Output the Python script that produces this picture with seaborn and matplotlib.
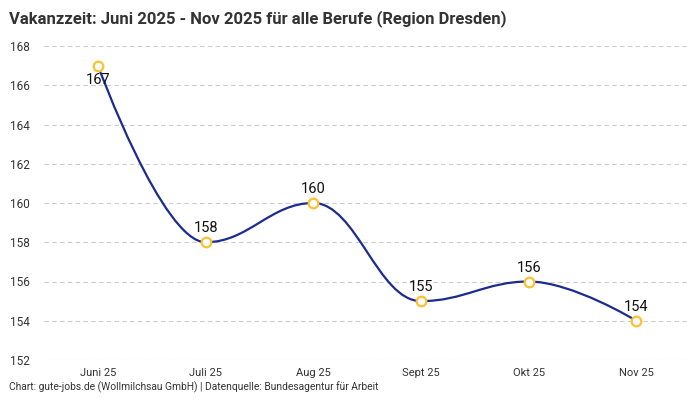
import matplotlib
matplotlib.use("Agg")
import matplotlib.pyplot as plt
from matplotlib.path import Path
from matplotlib.patches import PathPatch
import seaborn as sns
import pandas as pd
import numpy as np

title = "Vakanzzeit: Juni 2025 - Nov 2025 für alle Berufe (Region Dresden)"
footer = "Chart: gute-jobs.de (Wollmilchsau GmbH) | Datenquelle: Bundesagentur für Arbeit"
months = ["Juni 25", "Juli 25", "Aug 25", "Sept 25", "Okt 25", "Nov 25"]
values = [167, 158, 160, 155, 156, 154]
y_ticks = [152, 154, 156, 158, 160, 162, 164, 166, 168]

LINE = "#1c2b8f"
MARK = "#fcc12e"

sns.set_theme(style="white")
plt.rcParams["font.family"] = ["Roboto", "DejaVu Sans"]

df = pd.DataFrame({"x": np.arange(len(months)), "month": months, "value": values})

fig = plt.figure(figsize=(7, 4), dpi=100)
ax = fig.add_axes([0.063, 0.10, 0.923, 0.785])


def spline_path(xs, ys, smoothing=1.5):
    denom = smoothing + 1
    n = len(xs)
    lc = [None] * n
    rc = [None] * n
    for i in range(1, n - 1):
        px, py = xs[i], ys[i]
        lx, ly = xs[i - 1], ys[i - 1]
        nx, ny = xs[i + 1], ys[i + 1]
        lcx = (smoothing * px + lx) / denom
        lcy = (smoothing * py + ly) / denom
        rcx = (smoothing * px + nx) / denom
        rcy = (smoothing * py + ny) / denom
        if rcx != lcx:
            corr = (rcy - lcy) * (rcx - px) / (rcx - lcx) + py - rcy
            lcy += corr
            rcy += corr
        if lcy > ly and lcy > py:
            lcy = max(ly, py); rcy = 2 * py - lcy
        elif lcy < ly and lcy < py:
            lcy = min(ly, py); rcy = 2 * py - lcy
        if rcy > ny and rcy > py:
            rcy = max(ny, py); lcy = 2 * py - rcy
        elif rcy < ny and rcy < py:
            rcy = min(ny, py); lcy = 2 * py - rcy
        lc[i] = (lcx, lcy)
        rc[i] = (rcx, rcy)
    verts = [(xs[0], ys[0])]
    codes = [Path.MOVETO]
    for i in range(1, n):
        c1 = rc[i - 1] if rc[i - 1] is not None else (xs[i - 1], ys[i - 1])
        c2 = lc[i] if lc[i] is not None else (xs[i], ys[i])
        verts += [c1, c2, (xs[i], ys[i])]
        codes += [Path.CURVE4] * 3
    return Path(verts, codes)


ax.add_patch(PathPatch(spline_path(df["x"].tolist(), df["value"].tolist()),
                       facecolor="none", edgecolor=LINE, lw=1.6, zorder=3))

sns.scatterplot(data=df, x="x", y="value", ax=ax, s=48, color="white",
                edgecolor=MARK, linewidth=1.6, zorder=4, legend=False)

ymin, ymax = y_ticks[0], y_ticks[-1]
for xi, v in zip(df["x"], df["value"]):
    dy = -10 if ymax - v < 1.5 else 10
    ax.annotate(str(v), (xi, v), xytext=(0, dy), textcoords="offset points",
                ha="center", va="center", fontsize=10.5, color="#111111", zorder=5)

ax.set_xlim(-0.5, len(months) - 0.5)
ax.set_ylim(ymin, ymax)
ax.set_yticks(y_ticks)
ax.set_xticks(df["x"])
ax.set_xticklabels(months)
ax.yaxis.grid(True, color="#cccccc", linestyle=(0, (4, 3)), lw=0.8)
ax.xaxis.grid(False)
for s in ax.spines.values():
    s.set_visible(False)
ax.tick_params(axis="both", length=0, colors="#333333")
ax.tick_params(axis="x", pad=6, labelsize=8)
ax.tick_params(axis="y", pad=24.5, labelsize=8.5)
for lab in ax.get_yticklabels():
    lab.set_horizontalalignment("left")
ax.set_xlabel("")
ax.set_ylabel("")

fig.text(0.013, 0.975, title, ha="left", va="top", fontsize=12, fontweight="bold", color="#333333")
fig.text(0.013, 0.018, footer, ha="left", va="bottom", fontsize=7.4, color="#333333")

fig.savefig("out.png", dpi=100)
